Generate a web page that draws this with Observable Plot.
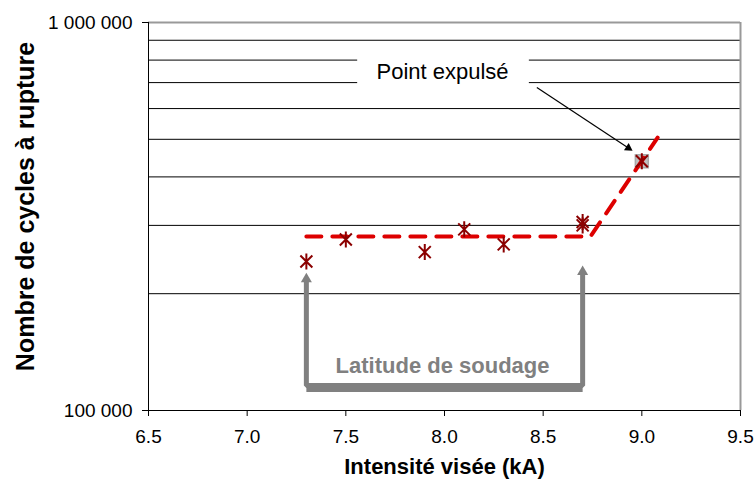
<!DOCTYPE html>
<html><head><meta charset="utf-8">
<script src="https://cdn.jsdelivr.net/npm/d3@7"></script>
<script src="https://cdn.jsdelivr.net/npm/@observablehq/plot@0.6"></script>
<style>body{margin:0;background:#fff}</style>
</head><body><div id="chart"></div>
<script>
// measured points
const intensity = [7.3, 7.5, 7.9, 8.1, 8.3, 8.7, 8.7, 9.0];
const cycles = [242000, 276000, 256000, 293000, 268000, 306000, 300000, 439000];
// expelled point
const expelledX = [9.0];
const expelledY = [439000];
// trend (dashed) line
const trendX = [7.3, 8.74, 9.08];
const trendY = [281000, 281000, 505000];
// grid + ticks
const gridY = [200000, 300000, 400000, 500000, 600000, 700000, 800000, 900000];
const xTicks = [6.5, 7.0, 7.5, 8.0, 8.5, 9.0, 9.5];
const yTicks = [100000, 1000000];
// "Latitude de soudage" bracket
const bracketX = [7.3, 7.3, 8.7, 8.7];
const bracketY = [216000, 116000, 116000, 225000];
const bracketHeadX = [7.3, 8.7];
const bracketHeadY = [218000, 227700];
const latitudeLabel = {x: 7.99, y: 130600, text: "Latitude de soudage"};
// "Point expulsé" annotation
const expLabel = {x: 7.99, y: 747000, text: "Point expulsé"};
const expBox = {x1: 7.56, x2: 8.43, y1: 652000, y2: 857000};
const expArrowFrom = {x: 8.468, y: 680000};
const expArrowHead = {x: 8.932, y: 475000};
const xTitle = "Intensité visée (kA)";
const yTitle = "Nombre de cycles à rupture";

const fmt = d3.formatLocale({decimal: ".", thousands: " ", grouping: [3], currency: ["", ""]}).format(",d");

const starX = {
  draw(ctx, size) {
    const s = Math.sqrt(size / Math.PI);
    const d = s * 0.75;
    ctx.moveTo(-d, -d); ctx.lineTo(d, d);
    ctx.moveTo(d, -d); ctx.lineTo(-d, d);
    ctx.moveTo(0, -s); ctx.lineTo(0, s);
  }
};

const pts = intensity.map((x, i) => ({x, y: cycles[i]}));
const trend = trendX.map((x, i) => ({x, y: trendY[i]}));
const bracket = bracketX.map((x, i) => ({x, y: bracketY[i]}));
const heads = bracketHeadX.map((x, i) => ({x, y: bracketHeadY[i]}));
const expelled = expelledX.map((x, i) => ({x, y: expelledY[i]}));

const chart = Plot.plot({
  width: 756,
  height: 486,
  marginLeft: 148,
  marginRight: 16,
  marginTop: 22,
  marginBottom: 76,
  style: {fontFamily: "'Liberation Sans', Arial, sans-serif", fontSize: "19px", background: "#fff", color: "#000"},
  x: {domain: [6.5, 9.5]},
  y: {type: "log", domain: [100000, 1000000]},
  marks: [
    Plot.ruleY(gridY, {stroke: "#000", strokeWidth: 1}),
    Plot.ruleY([1000000], {stroke: "#999", strokeWidth: 2}),
    Plot.ruleX([9.5], {stroke: "#999", strokeWidth: 2}),
    Plot.ruleX([6.5], {stroke: "#000", strokeWidth: 1}),
    Plot.ruleY([100000], {stroke: "#000", strokeWidth: 1}),
    Plot.rect([expBox], {x1: "x1", x2: "x2", y1: "y1", y2: "y2", fill: "#fff"}),
    Plot.axisX({ticks: xTicks, tickFormat: d => d.toFixed(1), tickSize: 6, tickPadding: 13, label: null, fontSize: 19}),
    Plot.axisY({ticks: yTicks, tickFormat: fmt, tickSize: 6, tickPadding: 10, label: null, fontSize: 19}),
    Plot.line(bracket, {x: "x", y: "y", stroke: "#808080", strokeWidth: 5, strokeLinejoin: "miter", curve: "linear"}),
    Plot.line(bracket.slice(1, 3), {x: "x", y: "y", dy: 2, stroke: "#808080", strokeWidth: 9, strokeLinecap: "butt"}),
    Plot.dot(heads, {x: "x", y: "y", symbol: "triangle", r: 4.1, fill: "#808080", stroke: "none"}),
    Plot.text([latitudeLabel], {x: "x", y: "y", text: "text", fill: "#808080", fontWeight: "bold", fontSize: 22}),
    Plot.dot(expelled, {x: "x", y: "y", symbol: "square", r: 7.3, fill: "#c0c0c0", stroke: "#a8a8a8"}),
    Plot.line(trend, {x: "x", y: "y", stroke: "#dd0000", strokeWidth: 4, strokeDasharray: "15,11"}),
    Plot.dot(pts, {x: "x", y: "y", symbol: starX, r: 8, fill: "none", stroke: "#8b0000", strokeWidth: 2}),
    Plot.text([expLabel], {x: "x", y: "y", text: "text", fill: "#000", fontSize: 22}),
    Plot.link([{x1: expArrowFrom.x, y1: expArrowFrom.y, x2: expArrowHead.x, y2: expArrowHead.y}], {x1: "x1", y1: "y1", x2: "x2", y2: "y2", stroke: "#000", strokeWidth: 1.2}),
    Plot.dot([expArrowHead], {x: "x", y: "y", symbol: "triangle", r: 3.2, rotate: 123.3, fill: "#000", stroke: "none"}),
    Plot.text([xTitle], {frameAnchor: "bottom", dy: 63, text: d => d, fontWeight: "bold", fontSize: 22}),
    Plot.text([yTitle], {frameAnchor: "left", textAnchor: "middle", dx: -123, dy: -10, rotate: -90, text: d => d, fontWeight: "bold", fontSize: 25})
  ]
});
document.getElementById("chart").appendChild(chart);
</script>
</body></html>
